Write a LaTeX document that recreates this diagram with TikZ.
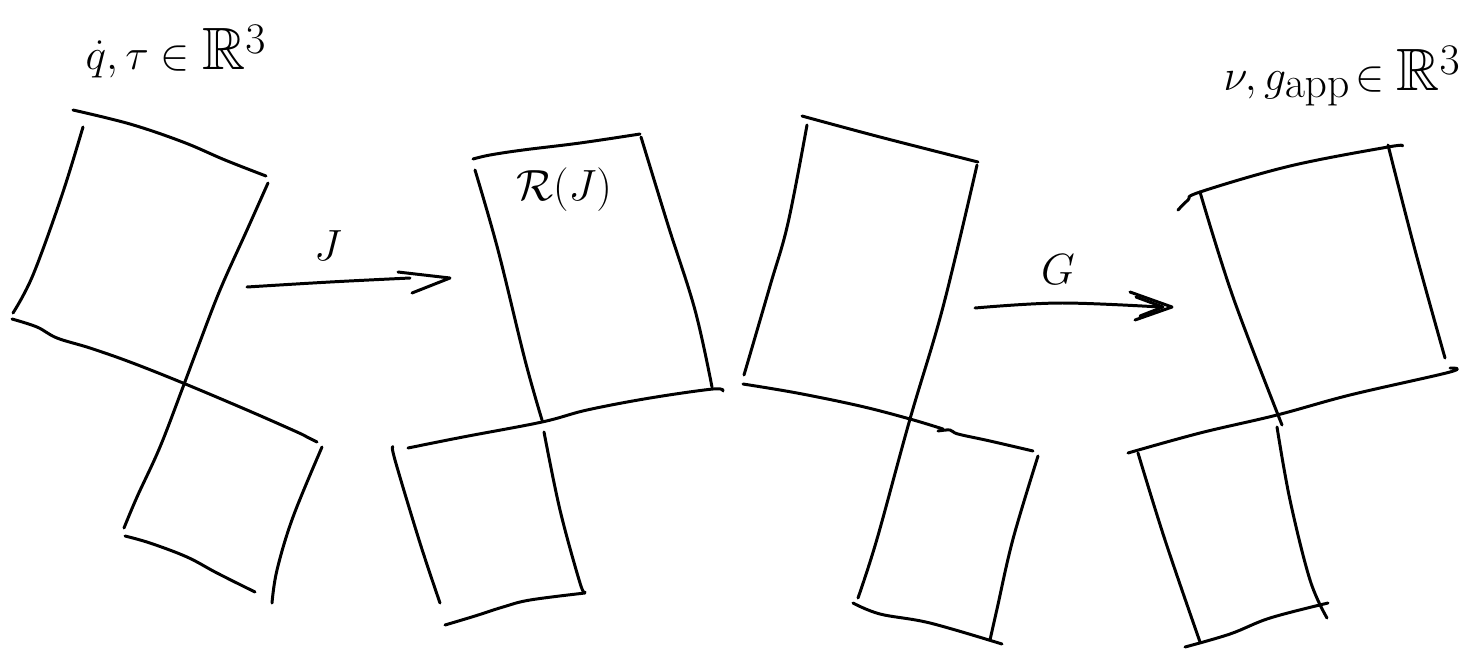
\documentclass[tikz,border=0pt]{standalone}
\usepackage{amsmath}
\usepackage{amssymb}
\usetikzlibrary{calc}
\tikzset{
  pen/.style={line width=1.7pt, line cap=round, line join=round, black},
  lbl/.style={inner sep=0pt, font=\fontsize{34}{40}\selectfont},
  arrlbl/.style={inner sep=0pt, font=\fontsize{30}{36}\selectfont},
}
\begin{document}
\begin{tikzpicture}[x=0.02cm, y=-0.02cm]
\fill[white] (0,0) rectangle (1464,650);
\useasboundingbox (0,0) rectangle (1464,650);

% ---------- labels ----------
\node[lbl] (lin) at (176,52) {$\dot{q},\tau\in\mathbb{R}^3$};
\node[lbl] (lout) at (1342,76) {$\nu,g_{\mathrm{app}}\!\in\mathbb{R}^3$};
\node[arrlbl] (lJ) at (328,246) {$J$};
\node[arrlbl] (lG) at (1058,270) {$G$};
\node[arrlbl] (lR) at (564,190) {$\mathcal{R}(J)$};

% ---------- figure A ----------
\draw[pen] plot[smooth, tension=0.6] coordinates {(73,110) (130,124) (183,142) (225,160) (266,176)};
\draw[pen] plot[smooth, tension=0.6] coordinates {(83,127) (62,195) (33,275) (13,313)};
\draw[pen] plot[smooth, tension=0.6] coordinates {(12,319) (37,327) (57,338) (90,348) (130,362) (183,383) (247,410) (297,432) (307,437) (317,442)};
\draw[pen] plot[smooth, tension=0.6] coordinates {(268,183) (247,230) (220,290) (198,347) (183,387) (160,447) (137,497) (124,528)};
\draw[pen] plot[smooth, tension=0.6] coordinates {(322,447) (293,517) (277,570) (272,603)};
\draw[pen] plot[smooth, tension=0.6] coordinates {(125,536) (150,543) (187,557) (217,573) (255,592)};

% ---------- arrow J ----------
\coordinate (js) at (247,287);
\coordinate (je) at (450,278);
\draw[pen] plot[smooth, tension=0.6] coordinates {(js) (330,282) (410,278)};
\draw[pen] (398,272) -- (je) -- (412,293);

% ---------- figure B ----------
\draw[pen] plot[smooth, tension=0.6] coordinates {(473,159) (490,155) (523,150) (580,143) (640,134)};
\draw[pen] plot[smooth, tension=0.6] coordinates {(475,170) (498,250) (525,360) (542,420)};
\draw[pen] plot[smooth, tension=0.6] coordinates {(641,137) (668,225) (695,310) (712,387)};
\draw[pen] plot[smooth, tension=0.6] coordinates {(408,448) (463,437) (542,422) (587,410) (650,398) (713,389) (723,391)};
\draw[pen] plot[smooth, tension=0.6] coordinates {(393,447) (395,460) (420,543) (440,603)};
\draw[pen] plot[smooth, tension=0.6] coordinates {(544,432) (560,510) (580,583) (585,592)};
\draw[pen] plot[smooth, tension=0.6] coordinates {(585,593) (530,600) (503,607) (475,616) (445,625)};

% ---------- figure C ----------
\draw[pen] plot[smooth, tension=0.6] coordinates {(802,116) (880,137) (978,162)};
\draw[pen] plot[smooth, tension=0.6] coordinates {(807,125) (788,223) (770,286) (744,375)};
\draw[pen] plot[smooth, tension=0.6] coordinates {(977,165) (943,307) (910,419) (877,539) (858,598)};
\draw[pen] plot[smooth, tension=0.6] coordinates {(743,384) (797,393) (860,406) (910,419) (943,429)};
\draw[pen] plot[smooth, tension=0.6] coordinates {(938,431) (950,430) (958,434) (990,441) (1033,451)};
\draw[pen] plot[smooth, tension=0.6] coordinates {(1038,456) (1013,539) (997,609) (990,640)};
\draw[pen] plot[smooth, tension=0.6] coordinates {(853,603) (880,614) (930,623) (1002,644)};

% ---------- arrow G ----------
\coordinate (gs) at (975,308);
\coordinate (ge) at (1172,307);
\draw[pen] plot[smooth, tension=0.6] coordinates {(gs) (1060,303) (1160,307)};
\draw[pen] (1130,292) -- (ge) -- (1135,320);
\draw[pen] (1136,297) -- (1163,307) -- (1140,316);

% ---------- figure D ----------
\draw[pen] plot[smooth, tension=0.6] coordinates {(1178,210) (1188,200) (1200,192) (1290,166) (1388,147) (1402,146)};
\draw[pen] plot[smooth, tension=0.6] coordinates {(1200,192) (1233,297) (1282,425)};
\draw[pen] plot[smooth, tension=0.6] coordinates {(1388,145) (1415,250) (1445,358)};
\draw[pen] plot[smooth, tension=0.6] coordinates {(1128,453) (1200,433) (1277,415) (1350,395) (1450,372) (1450,368)};
\draw[pen] plot[smooth, tension=0.6] coordinates {(1138,453) (1165,540) (1200,642)};
\draw[pen] plot[smooth, tension=0.6] coordinates {(1277,427) (1290,500) (1310,580) (1327,618)};
\draw[pen] plot[smooth, tension=0.6] coordinates {(1185,647) (1230,634) (1270,618) (1328,603)};
\end{tikzpicture}
\end{document}
